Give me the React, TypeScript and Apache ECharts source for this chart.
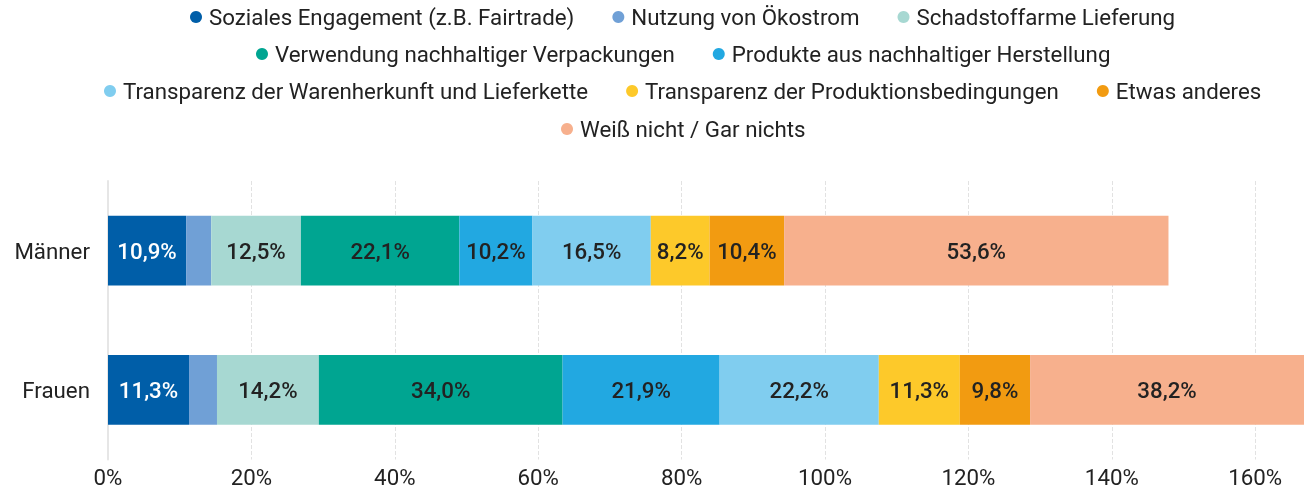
import React, { useEffect, useRef } from "react";
import * as echarts from "echarts";

const categories = ["Frauen", "Männer"];
const seriesNames = [
  "Soziales Engagement (z.B. Fairtrade)",
  "Nutzung von Ökostrom",
  "Schadstoffarme Lieferung",
  "Verwendung nachhaltiger Verpackungen",
  "Produkte aus nachhaltiger Herstellung",
  "Transparenz der Warenherkunft und Lieferkette",
  "Transparenz der Produktionsbedingungen",
  "Etwas anderes",
  "Weiß nicht / Gar nichts",
];
// values per series: [Frauen, Männer]
const soziales = [11.3, 10.9];
const oekostrom = [3.9, 3.5];
const schadstoff = [14.2, 12.5];
const verpackung = [34.0, 22.1];
const produkte = [21.9, 10.2];
const warenherkunft = [22.2, 16.5];
const produktion = [11.3, 8.2];
const anderes = [9.8, 10.4];
const weissNicht = [38.2, 53.6];
const showLabel = [true, false, true, true, true, true, true, true, true];
const legendRows = [
  [0, 1, 2],
  [3, 4],
  [5, 6, 7],
  [8],
];
const legendRowCenters = [17, 54, 91, 129];

const colors = [
  "#005ea8",
  "#70a0d6",
  "#a7d8d2",
  "#00a591",
  "#22a8e1",
  "#80cdef",
  "#fdc92a",
  "#f29b11",
  "#f7b08d",
];

const allValues = [soziales, oekostrom, schadstoff, verpackung, produkte, warenherkunft, produktion, anderes, weissNicht];

export default function App() {
  const ref = useRef<HTMLDivElement>(null);
  useEffect(() => {
    if (!ref.current) return;
    const chart = echarts.init(ref.current, null, { renderer: "svg" });
    const font = "Roboto";
    const fs = 22.3;
    const legendCenterX = 683;
    const iconW = 12;
    const gap = 38;
    const ctx = document.createElement("canvas").getContext("2d");
    if (ctx) ctx.font = `${fs}px ${font}`;
    const measure = (s: string) => (ctx ? ctx.measureText(s).width : s.length * 11);
    chart.setOption({
      animation: false,
      textStyle: { fontFamily: font },
      color: colors,
      legend: legendRows.map((row, r) => {
        const w =
          row.reduce((acc, i) => acc + iconW + 5 + 2 + measure(seriesNames[i]), 0) + gap * (row.length - 1);
        return {
          top: legendRowCenters[r] - 13,
          left: Math.round(legendCenterX - w / 2),
          padding: 0,
          icon: "circle",
          itemWidth: iconW,
          itemHeight: 12,
          itemGap: gap,
          textStyle: { fontSize: fs, color: "#222", fontFamily: font, lineHeight: 26, padding: [0, 0, 0, 2] },
          data: row.map((i) => seriesNames[i]),
        };
      }),
      grid: { left: 108, right: 0, top: 181, bottom: 30.5, containLabel: false, outerBoundsMode: "none" },
      xAxis: {
        type: "value",
        min: 0,
        max: "dataMax",
        interval: 20,
        axisLabel: {
          formatter: (v: number) => (v % 20 === 0 ? v + "%" : ""),
          fontSize: fs,
          color: "#222",
          margin: 6,
          fontFamily: font,
        },
        axisLine: { show: false },
        axisTick: { show: false },
        splitLine: { show: true, lineStyle: { type: "dashed", color: "#e2e2e2" } },
      },
      yAxis: {
        type: "category",
        data: categories,
        axisLine: { show: true, lineStyle: { color: "#e6e6e6", width: 2 } },
        axisTick: { show: false },
        axisLabel: { fontSize: fs, color: "#222", margin: 18, fontFamily: font },
      },
      series: seriesNames.map((name, i) => ({
        name,
        type: "bar",
        stack: "total",
        barWidth: "50%",
        data: allValues[i],
        label: {
          show: showLabel[i],
          position: "inside",
          fontSize: fs,
          fontWeight: 500,
          fontFamily: font,
          color: i === 0 ? "#ffffff" : "#222222",
          formatter: (p: any) => p.value.toFixed(1).replace(".", ",") + "%",
        },
      })),
    });
    return () => chart.dispose();
  }, []);
  return <div ref={ref} style={{ position: "fixed", left: 0, top: 0, width: 1304, height: 490 }} />;
}
